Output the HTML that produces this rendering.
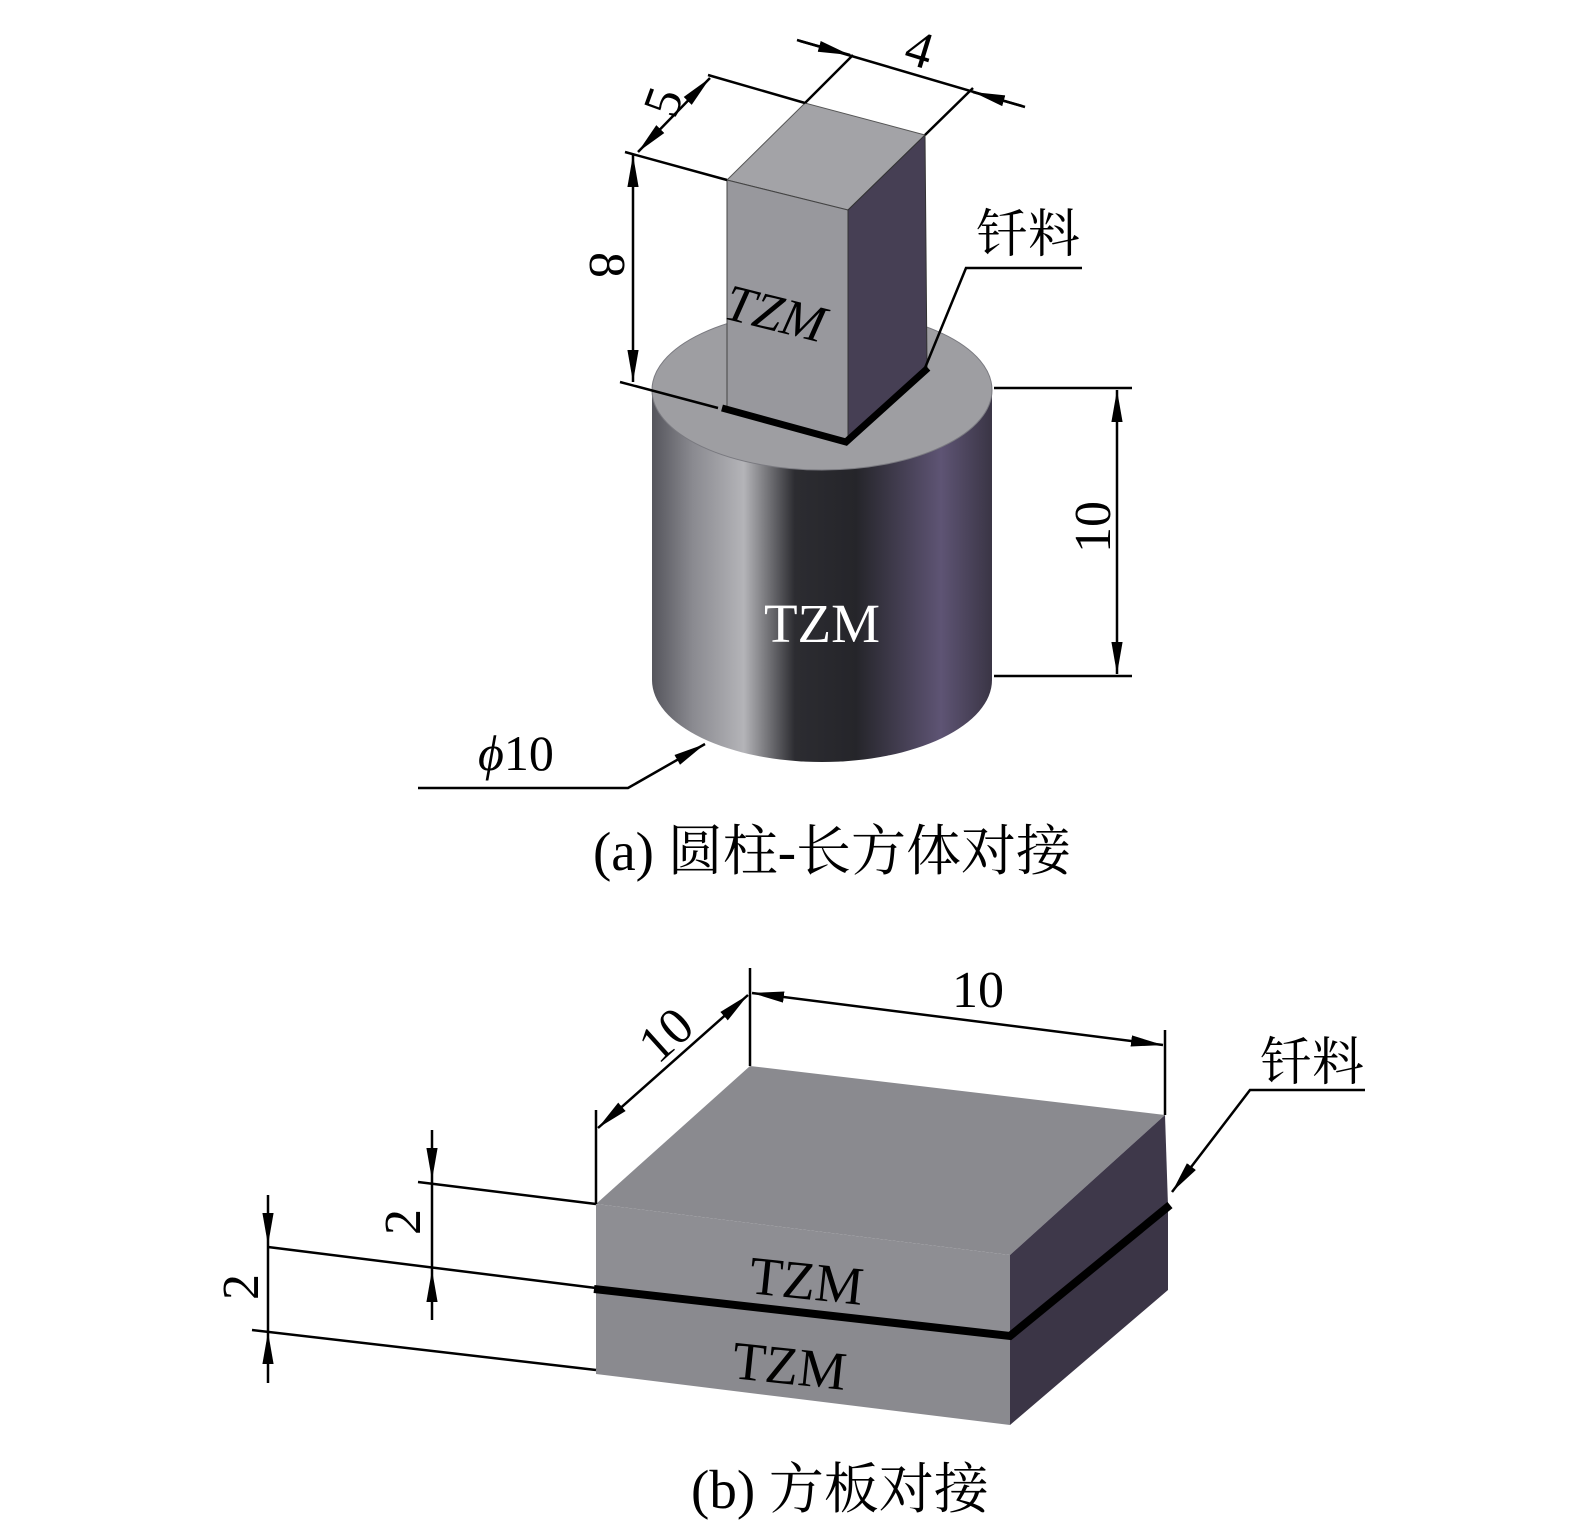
<!DOCTYPE html>
<html><head><meta charset="utf-8"><style>
html,body{margin:0;padding:0;background:#fff}
svg{display:block}
text{font-family:"Liberation Serif","Noto Serif CJK SC",serif;fill:#000}
</style></head><body>
<svg width="1575" height="1531" viewBox="0 0 1575 1531" xmlns="http://www.w3.org/2000/svg">
<defs>
<linearGradient id="cyl" x1="0" x2="1" y1="0" y2="0">
<stop offset="0" stop-color="#55555c"/>
<stop offset="0.12" stop-color="#8a8a90"/>
<stop offset="0.27" stop-color="#b4b4b8"/>
<stop offset="0.42" stop-color="#2c2c31"/>
<stop offset="0.6" stop-color="#25252a"/>
<stop offset="0.85" stop-color="#5e5474"/>
<stop offset="1" stop-color="#3a3545"/>
</linearGradient>
<marker id="arb" viewBox="0 0 10 10" refX="10" refY="5" markerWidth="32" markerHeight="14" markerUnits="userSpaceOnUse" orient="auto-start-reverse" preserveAspectRatio="none"><path d="M0,1 L10,5 L0,9 z" fill="#000"/></marker>
</defs>

<path d="M652,390 L652,680 A170,82 0 0 0 992,680 L992,390 Z" fill="url(#cyl)"/>
<ellipse cx="822" cy="390" rx="170" ry="80" fill="#9e9ea2" stroke="#7a7a80" stroke-width="1"/>

<polygon points="727,180 805,103 925,135 848,210" fill="#a3a3a7" stroke="#555" stroke-width="1"/>
<polygon points="727,180 848,210 848,443 727,410" fill="#98989d" stroke="#444" stroke-width="1"/>
<polygon points="848,210 925,135 927,368 848,443" fill="#463f54" stroke="#333" stroke-width="1"/>
<polyline points="722,408 846,442 928,368" fill="none" stroke="#000" stroke-width="7"/>
<text font-size="52" font-style="italic" transform="translate(722,318) rotate(14)">TZM</text>
<text x="822" y="642" font-size="55" text-anchor="middle" style="fill:#fff">TZM</text>

<g stroke="#000" stroke-width="2.5" fill="none">
<line x1="805" y1="103" x2="853" y2="55"/>
<line x1="925" y1="135" x2="973" y2="88"/>
<line x1="797" y1="40" x2="1025" y2="107"/>
<line x1="800" y1="41" x2="850" y2="55" marker-end="url(#arb)"/>
<line x1="1022" y1="106" x2="973" y2="92" marker-end="url(#arb)"/>
<line x1="727" y1="180" x2="625" y2="152"/>
<line x1="805" y1="103" x2="708" y2="75"/>
<line x1="638" y1="152" x2="710" y2="78" marker-start="url(#arb)" marker-end="url(#arb)"/>
<line x1="620" y1="382" x2="718" y2="408"/>
<line x1="633" y1="155" x2="633" y2="382" marker-start="url(#arb)" marker-end="url(#arb)"/>
<line x1="994" y1="388" x2="1132" y2="388"/>
<line x1="994" y1="676" x2="1132" y2="676"/>
<line x1="1117" y1="390" x2="1117" y2="674" marker-start="url(#arb)" marker-end="url(#arb)"/>
<polyline points="925,368 966,268 1082,268"/>
<polyline points="418,788 628,788 705,744" marker-end="url(#arb)"/>
</g>
<text font-size="52" transform="translate(902,62) rotate(17)">4</text>
<text font-size="52" transform="translate(675,120) rotate(-70)">5</text>
<text font-size="52" transform="translate(590,265) rotate(90)" text-anchor="middle">8</text>
<text font-size="52" transform="translate(1110,527) rotate(-90)" text-anchor="middle">10</text>
<text x="1028" y="252" font-size="52" text-anchor="middle">钎料</text>
<text x="478" y="770" font-size="50"><tspan font-style="italic">ϕ</tspan>10</text>
<text x="832" y="870" font-size="55" text-anchor="middle">(a) 圆柱-长方体对接</text>

<polygon points="596,1204 750,1066 1165,1115 1010,1255" fill="#8a8a8f"/>
<polygon points="596,1204 1010,1255 1010,1337 596,1289" fill="#8e8e93"/>
<polygon points="1010,1255 1165,1115 1168,1206 1010,1337" fill="#3e384a"/>
<polygon points="596,1289 1010,1337 1010,1425 596,1374" fill="#8a8a8f"/>
<polygon points="1010,1337 1168,1206 1168,1290 1010,1425" fill="#3b3546"/>
<polyline points="594,1289 1010,1336 1170,1205" fill="none" stroke="#000" stroke-width="8"/>
<text font-size="54" transform="translate(748,1293) rotate(6)">TZM</text>
<text font-size="54" transform="translate(731,1378) rotate(6)">TZM</text>

<g stroke="#000" stroke-width="2.5" fill="none">
<line x1="750" y1="968" x2="750" y2="1066"/>
<line x1="1165" y1="1030" x2="1165" y2="1115"/>
<line x1="752" y1="993" x2="1163" y2="1045" marker-start="url(#arb)" marker-end="url(#arb)"/>
<line x1="596" y1="1110" x2="596" y2="1204"/>
<line x1="748" y1="995" x2="598" y2="1128" marker-start="url(#arb)" marker-end="url(#arb)"/>
<polyline points="1365,1090 1250,1090 1172,1192" marker-end="url(#arb)"/>
<line x1="418" y1="1182" x2="596" y2="1204"/>
<line x1="268" y1="1247" x2="596" y2="1288"/>
<line x1="252" y1="1330" x2="596" y2="1370"/>
<line x1="432" y1="1130" x2="432" y2="1180" marker-end="url(#arb)"/>
<line x1="432" y1="1320" x2="432" y2="1270" marker-end="url(#arb)"/>
<line x1="432" y1="1180" x2="432" y2="1270"/>
<line x1="268" y1="1195" x2="268" y2="1245" marker-end="url(#arb)"/>
<line x1="268" y1="1383" x2="268" y2="1332" marker-end="url(#arb)"/>
<line x1="268" y1="1245" x2="268" y2="1332"/>
</g>
<text x="978" y="1007" font-size="52" text-anchor="middle">10</text>
<text font-size="52" transform="translate(658,1065) rotate(-42)">10</text>
<text x="1312" y="1080" font-size="52" text-anchor="middle">钎料</text>
<text font-size="52" transform="translate(420,1222) rotate(-90)" text-anchor="middle">2</text>
<text font-size="52" transform="translate(258,1287) rotate(-90)" text-anchor="middle">2</text>
<text x="840" y="1508" font-size="55" text-anchor="middle">(b) 方板对接</text>
</svg>
</body></html>
